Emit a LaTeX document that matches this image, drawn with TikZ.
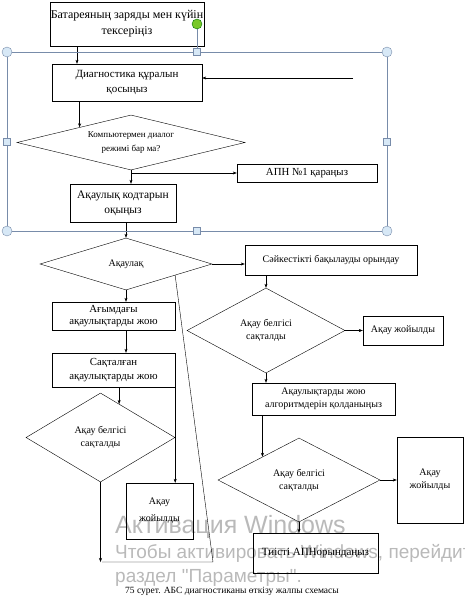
\documentclass[tikz,border=0pt]{standalone}
\usepackage{fontspec}
\setmainfont{Liberation Serif}
\newfontfamily\winfont{Liberation Sans}
\usetikzlibrary{shapes.geometric,arrows.meta,positioning,calc}

\definecolor{framecol}{RGB}{120,140,170}
\definecolor{handlefill}{RGB}{215,232,246}
\definecolor{greenhandle}{RGB}{120,200,40}

\begin{document}
\begin{tikzpicture}[
  x=1pt, y=-1pt,
  box/.style={rectangle, draw, align=center, inner sep=1pt, font=\fontsize{10}{13}\selectfont},
  decision/.style={diamond, draw, align=center, inner sep=0pt, font=\fontsize{10}{13}\selectfont},
  arrow/.style={-{Stealth[length=4pt,width=3pt]}},
  handle/.style={circle, draw=framecol, fill=handlefill, minimum size=10pt, inner sep=0pt},
  grip/.style={rectangle, draw=framecol, fill=handlefill, minimum size=7pt, inner sep=0pt},
  winmark/.style={anchor=base west, inner sep=0pt, text=gray!55}
]
  \useasboundingbox (0,0) rectangle (465,600);

  % activation notice (behind the chart)
  \node[winmark, font=\winfont\fontsize{25}{25}\selectfont] (winhead) at (115,533) {Активация Windows};
  \node[winmark, font=\winfont\fontsize{19}{19}\selectfont] (winhint) at (115,558) {Чтобы активировать Windows, перейдите в};
  \node[winmark, font=\winfont\fontsize{19}{19}\selectfont] (winpath) at (115,582) {раздел "Параметры".};

  % upper part (inside the selection frame)
  \node[box, minimum width=150pt, minimum height=44pt, font=\fontsize{12}{16}\selectfont] (battery) at (127,24) {Батареяның заряды мен күйін\\тексеріңіз};
  \node[box, minimum width=150pt, minimum height=37pt, font=\fontsize{11}{15}\selectfont] (tool) at (127,82.5) {Диагностика құралын\\қосыңыз};
  \node[decision, minimum width=228pt, minimum height=55pt, aspect=4, font=\fontsize{9}{14}\selectfont] (dialog) at (131,142.5) {Компьютермен диалог\\режимі бар ма?};
  \node[box, minimum width=140pt, minimum height=18pt, font=\fontsize{10.8}{13}\selectfont] (apnone) at (307,173) {АПН №1 қараңыз};
  \node[box, minimum width=106pt, minimum height=38pt, font=\fontsize{11.5}{15}\selectfont] (codes) at (123,203) {Ақаулық кодтарын\\оқыңыз};

  % left column
  \node[decision, minimum width=172pt, minimum height=52pt, aspect=3.3] (fault) at (126,264) {Ақаулақ};
  \node[box, minimum width=123pt, minimum height=28pt, font=\fontsize{10.8}{12.5}\selectfont] (current) at (113.5,316) {Ағымдағы\\ақаулықтарды жою};
  \node[box, minimum width=123pt, minimum height=34pt, font=\fontsize{10.8}{14}\selectfont] (stored) at (113.5,370) {Сақталған\\ақаулықтарды жою};
  \node[decision, minimum width=149pt, minimum height=89pt, aspect=1.7] (signleft) at (100.5,437.5) {Ақау белгісі\\сақталды};
  \node[box, minimum width=67pt, minimum height=56pt, font=\fontsize{10}{17}\selectfont] (fixedleft) at (159.5,511) {Ақау\\жойылды};

  % right column
  \node[box, minimum width=172pt, minimum height=30pt] (check) at (331,260) {Сәйкестікті бақылауды орындау};
  \node[decision, minimum width=158pt, minimum height=85pt, aspect=1.9] (signmid) at (266,330.5) {Ақау белгісі\\сақталды};
  \node[box, minimum width=80pt, minimum height=29pt] (fixedmid) at (403,330.5) {Ақау жойылды};
  \node[box, minimum width=143pt, minimum height=32pt] (algo) at (323.5,399) {Ақаулықтарды жою\\алгоритмдерін қолданыңыз};
  \node[decision, minimum width=162pt, minimum height=84pt, aspect=1.9] (signright) at (299,480) {Ақау белгісі\\сақталды};
  \node[box, minimum width=66pt, minimum height=86pt] (fixedright) at (430,480) {Ақау\\жойылды};
  \node[box, minimum width=125pt, minimum height=40pt, font=\fontsize{11}{13}\selectfont] (apnrun) at (315.5,553) {Тиісті АПНорындаңыз};

  \node[font=\fontsize{9.5}{11}\selectfont] (caption) at (232,591) {75 сурет. АБС диагностиканы өткізу жалпы схемасы};

  % connectors
  \coordinate (back) at (353,78);
  \coordinate (dialogin) at ($(dialog.north)!0.45!(dialog.west)$);
  \coordinate (leftin) at ($(signleft.north)!0.25!(signleft.east)$);
  \coordinate (rightin) at ($(signright.north)!0.45!(signright.west)$);
  \coordinate (loopin) at ($(fault.east)!0.43!(fault.south)$);
  \coordinate (loopleft) at (102,562);
  \coordinate (loopright) at (213,562);

  \draw[arrow] ([xshift=-50pt]battery.south) -- ([xshift=-50pt]tool.north);
  \draw[arrow] (back) -- (back -| tool.east);
  \draw[arrow] (dialogin |- tool.south) -- (dialogin);
  \draw[arrow] (dialog.south) |- (apnone.west);
  \draw[arrow] (dialog.south) -- (dialog.south |- codes.north);
  \draw[arrow] (fault.north |- codes.south) -- (fault.north);
  \draw[arrow] (fault.east) -- (fault.east -| check.west);
  \draw[arrow] (fault.south) -- (fault.south |- current.north);
  \draw[arrow] (fault.south |- current.south) -- (fault.south |- stored.north);
  \draw[arrow] (leftin |- stored.south) -- (leftin);
  \draw (stored.south east) -- (signleft.east);
  \draw[arrow] (signleft.east) -- (signleft.east |- fixedleft.north);
  \draw[arrow] (signleft.south) -- (signleft.south |- loopleft);
  \draw (loopleft) -- (loopright) -- (loopin);
  \draw[arrow] (signmid.north |- check.south) -- (signmid.north);
  \draw[arrow] (signmid.east) -- (fixedmid.west);
  \draw[arrow] (signmid.south) -- (signmid.south |- algo.north);
  \draw[arrow] (rightin |- algo.south) -- (rightin);
  \draw[arrow] (signright.east) -- (fixedright.west);
  \draw[arrow] (signright.south) -- (signright.south |- apnrun.north);

  % selection frame
  \draw[framecol, line width=0.8pt] (7,52) rectangle (387,231);
  \draw[framecol, line width=0.8pt] (197,24) -- (197,52);
  \foreach \x/\y [count=\i] in {7/52, 387/52, 7/231, 387/231}
    \node[handle] (corner\i) at (\x,\y) {};
  \foreach \x/\y [count=\i] in {197/52, 7/142, 387/142, 197/231}
    \node[grip] (side\i) at (\x,\y) {};
  \node[handle, draw=green!45!black, fill=greenhandle] (turn) at (197,24) {};
\end{tikzpicture}
\end{document}
